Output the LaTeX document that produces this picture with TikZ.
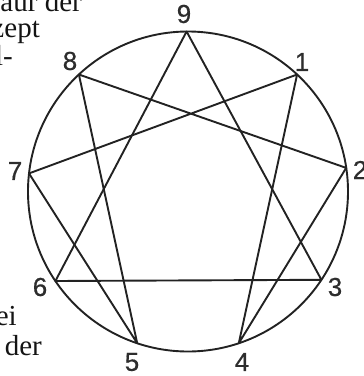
\documentclass[tikz,border=0pt]{standalone}
\usepackage{fontspec}
\setmainfont{Liberation Serif}
\newfontfamily\digitfont[FakeBold=0.6]{Liberation Sans}

\begin{document}
\begin{tikzpicture}[x=1pt, y=-1pt]
      % Farben
      \definecolor{linecolor}{RGB}{34,34,34}
      \definecolor{digitcolor}{RGB}{45,45,45}
      \definecolor{textcolor}{RGB}{20,20,20}

      % Stile
      \tikzstyle{digit} = [font=\digitfont\fontsize{26}{26}\selectfont, text=digitcolor, inner sep=0pt]
      \tikzstyle{bodytext} = [font=\fontsize{29}{30}\selectfont, text=textcolor, inner sep=0pt, anchor=base east]
      \tikzstyle{ennealine} = [draw=linecolor, line width=1.9pt, line join=round]

      \useasboundingbox (0,0) rectangle (364,376);

      % Fliesstext links
      \node[bodytext] (txt1) at (82,11) {aur der};
      \node[bodytext] (txt2) at (40,37) {zept};
      \node[bodytext] (txt3) at (13,65) {l-};
      \node[bodytext] (txt4) at (17,325) {ei};
      \node[bodytext] (txt5) at (42,355) {der};

      % Kreis
      \coordinate (centre) at (188,191.5);
      \draw[ennealine] (centre) circle[radius=160];

      % Punkte auf dem Kreis
      \coordinate (p9) at (186.6,31.5);
      \coordinate (p1) at (297.1,74.5);
      \coordinate (p2) at (346.2,167.9);
      \coordinate (p3) at (321.4,279.8);
      \coordinate (p4) at (238.8,343.2);
      \coordinate (p5) at (137.2,343.2);
      \coordinate (p6) at (55.4,281);
      \coordinate (p7) at (29,173.4);
      \coordinate (p8) at (78.9,74.5);

      % Ziffern
      \node[digit] (n9) at (184,14) {9};
      \node[digit] (n1) at (302,62) {1};
      \node[digit] (n2) at (360,170) {2};
      \node[digit] (n3) at (335,287) {3};
      \node[digit] (n4) at (242,362) {4};
      \node[digit] (n5) at (132,362) {5};
      \node[digit] (n6) at (40,287) {6};
      \node[digit] (n7) at (15,171) {7};
      \node[digit] (n8) at (70,61) {8};

      % Dreieck 9-3-6
      \draw[ennealine] (p9) -- (p3) -- (p6) -- cycle;

      % Hexade 1-4-2-8-5-7-1
      \draw[ennealine] (p1) -- (p4) -- (p2) -- (p8) -- (p5) -- (p7) -- cycle;
\end{tikzpicture}
\end{document}
